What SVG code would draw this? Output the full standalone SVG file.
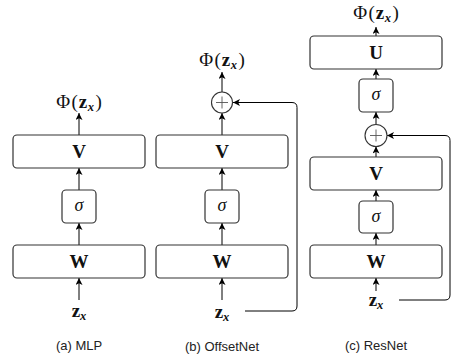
<svg xmlns="http://www.w3.org/2000/svg" width="452" height="356" viewBox="0 0 452 356">
  <defs>
    <marker id="arr" markerUnits="userSpaceOnUse" markerWidth="8" markerHeight="8" refX="7" refY="3.5" orient="auto">
      <path d="M0,0 L7,3.5 L0,7 L1.8,3.5 Z" fill="#000"/>
    </marker>
    <style>
      .box { fill: #fff; stroke: #333; stroke-width: 1.2; }
      .sum { fill: #fff; stroke: #333; stroke-width: 1.1; }
      .plus { stroke: #555; stroke-width: 0.9; fill: none; }
      .edge { fill: none; stroke: #000; stroke-width: 1; marker-end: url(#arr); }
      .mat { font-family: "Liberation Serif", "DejaVu Serif", serif; font-weight: bold; font-size: 19px; fill: #111; text-anchor: middle; }
      .act { font-family: "Liberation Serif", "DejaVu Serif", serif; font-style: italic; font-size: 18px; fill: #111; text-anchor: middle; }
      .math { font-family: "Liberation Serif", "DejaVu Serif", serif; font-size: 19px; fill: #111; text-anchor: middle; }
      .bz { font-weight: bold; }
      .sub { font-weight: bold; font-style: italic; font-size: 12.5px; }
      .cap { font-family: "Liberation Sans", Arial, sans-serif; font-size: 13px; fill: #222; text-anchor: middle; }
    </style>
  </defs>

  <!-- connectors -->
  <g id="connectors">
    <!-- (a) MLP -->
    <line class="edge" x1="79" y1="300" x2="79" y2="278"/>
    <line class="edge" x1="79" y1="245" x2="79" y2="223"/>
    <line class="edge" x1="79" y1="190" x2="79" y2="168"/>
    <line class="edge" x1="79" y1="135" x2="79" y2="113"/>
    <!-- (b) OffsetNet -->
    <line class="edge" x1="222" y1="300" x2="222" y2="278"/>
    <line class="edge" x1="222" y1="245" x2="222" y2="223"/>
    <line class="edge" x1="222" y1="190" x2="222" y2="168"/>
    <line class="edge" x1="222" y1="135" x2="222" y2="113"/>
    <line class="edge" x1="222" y1="92" x2="222" y2="72"/>
    <path class="edge" d="M245,311 H292 Q297,311 297,306 V107.5 Q297,102.5 292,102.5 H233"/>
    <!-- (c) ResNet -->
    <line class="edge" x1="376" y1="291" x2="376" y2="278"/>
    <line class="edge" x1="376" y1="245" x2="376" y2="233"/>
    <line class="edge" x1="376" y1="201" x2="376" y2="190"/>
    <line class="edge" x1="376" y1="157" x2="376" y2="146.5"/>
    <line class="edge" x1="376" y1="124.5" x2="376" y2="112"/>
    <line class="edge" x1="376" y1="79" x2="376" y2="69"/>
    <line class="edge" x1="376" y1="36" x2="376" y2="27"/>
    <path class="edge" d="M399,300 H445 Q450,300 450,295 V140.5 Q450,135.5 445,135.5 H387"/>
  </g>

  <!-- (a) MLP -->
  <g id="a-in"><text class="math" x="79" y="317"><tspan class="bz">z</tspan><tspan class="sub" dy="3">x</tspan></text></g>
  <g id="a-W"><rect class="box" x="13" y="245" width="132" height="33" rx="4"/><text class="mat" x="79" y="268">W</text></g>
  <g id="a-sigma"><rect class="box" x="62" y="190" width="34" height="33" rx="4"/><text class="act" x="79" y="211">σ</text></g>
  <g id="a-V"><rect class="box" x="13" y="135" width="132" height="33" rx="4"/><text class="mat" x="79" y="158">V</text></g>
  <g id="a-out"><text class="math" x="79" y="108">Φ<tspan dx="1.5">(</tspan><tspan class="bz" dx="1">z</tspan><tspan class="sub" dy="3" dx="0.5">x</tspan><tspan dy="-3" dx="1.5">)</tspan></text></g>
  <g id="a-cap"><text class="cap" x="79" y="350">(a) MLP</text></g>

  <!-- (b) OffsetNet -->
  <g id="b-in"><text class="math" x="222" y="318"><tspan class="bz">z</tspan><tspan class="sub" dy="3">x</tspan></text></g>
  <g id="b-W"><rect class="box" x="156" y="245" width="132" height="33" rx="4"/><text class="mat" x="222" y="268">W</text></g>
  <g id="b-sigma"><rect class="box" x="205" y="190" width="34" height="33" rx="4"/><text class="act" x="222" y="211">σ</text></g>
  <g id="b-V"><rect class="box" x="156" y="135" width="132" height="33" rx="4"/><text class="mat" x="222" y="158">V</text></g>
  <g id="b-sum"><circle class="sum" cx="222" cy="102.5" r="10.5"/><path class="plus" d="M216,102.5 H228 M222,96.5 V108.5"/></g>
  <g id="b-out"><text class="math" x="222" y="66">Φ<tspan dx="1.5">(</tspan><tspan class="bz" dx="1">z</tspan><tspan class="sub" dy="3" dx="0.5">x</tspan><tspan dy="-3" dx="1.5">)</tspan></text></g>
  <g id="b-cap"><text class="cap" x="222" y="351">(b) OffsetNet</text></g>

  <!-- (c) ResNet -->
  <g id="c-in"><text class="math" x="376" y="306"><tspan class="bz">z</tspan><tspan class="sub" dy="3">x</tspan></text></g>
  <g id="c-W"><rect class="box" x="310" y="245" width="132" height="33" rx="4"/><text class="mat" x="376" y="268">W</text></g>
  <g id="c-sigma1"><rect class="box" x="359" y="201" width="34" height="32" rx="4"/><text class="act" x="376" y="221.5">σ</text></g>
  <g id="c-V"><rect class="box" x="310" y="157" width="132" height="33" rx="4"/><text class="mat" x="376" y="180">V</text></g>
  <g id="c-sum"><circle class="sum" cx="376" cy="135.5" r="11"/><path class="plus" d="M370,135.5 H382 M376,129.5 V141.5"/></g>
  <g id="c-sigma2"><rect class="box" x="359" y="79" width="34" height="33" rx="4"/><text class="act" x="376" y="100">σ</text></g>
  <g id="c-U"><rect class="box" x="310" y="36" width="132" height="33" rx="4"/><text class="mat" x="376" y="59">U</text></g>
  <g id="c-out"><text class="math" x="376" y="19">Φ<tspan dx="1.5">(</tspan><tspan class="bz" dx="1">z</tspan><tspan class="sub" dy="3" dx="0.5">x</tspan><tspan dy="-3" dx="1.5">)</tspan></text></g>
  <g id="c-cap"><text class="cap" x="376" y="350">(c) ResNet</text></g>
</svg>
